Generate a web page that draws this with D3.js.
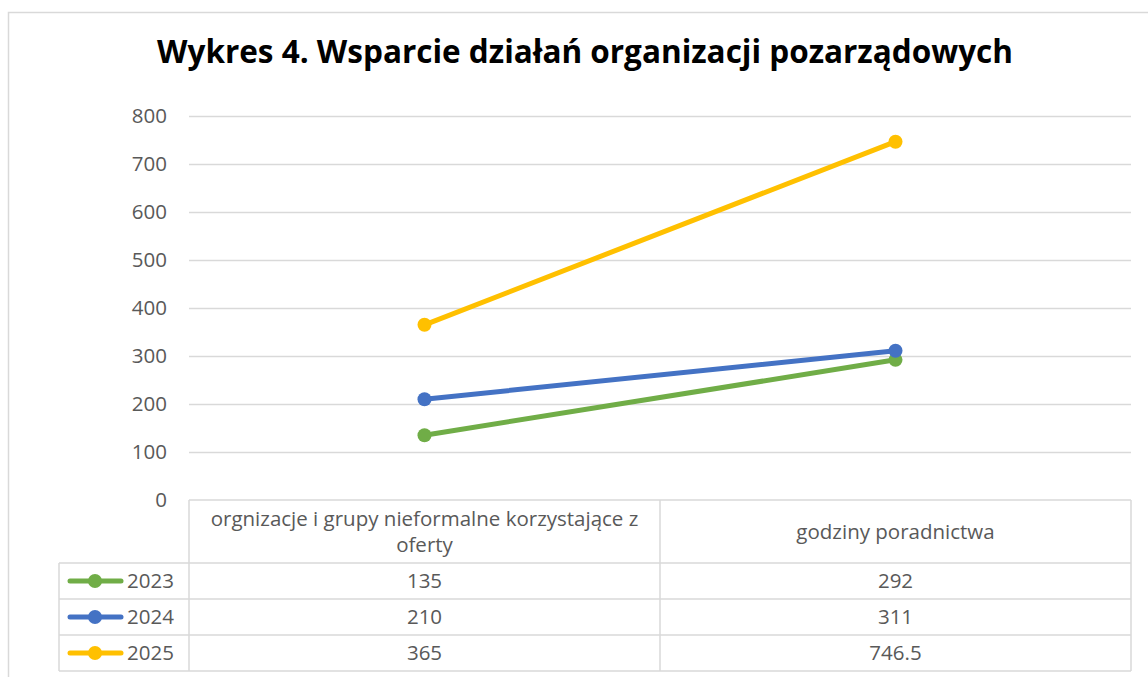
<!DOCTYPE html>
<html>
<head>
<meta charset="utf-8">
<script src="https://cdn.jsdelivr.net/npm/d3@7"></script>
<style>
  body { margin: 0; background: #fff; }
  svg { display: block; font-family: "Open Sans", Lato, sans-serif; }
</style>
</head>
<body>
<svg id="chart" width="1148" height="677"></svg>
<script>
const title = "Wykres 4. Wsparcie działań organizacji pozarządowych";
const categories = [
  ["orgnizacje i grupy nieformalne korzystające z", "oferty"],
  ["godziny poradnictwa"]
];
const years = ["2023", "2024", "2025"];
const values2023 = [135, 292];
const values2024 = [210, 311];
const values2025 = [365, 746.5];
const yTicks = [0, 100, 200, 300, 400, 500, 600, 700, 800];
const colors = ["#70AD47", "#4472C4", "#FFC000"];

const series = [values2023, values2024, values2025];

const svg = d3.select("#chart");
const grey = "#d9d9d9";
const textColor = "#595959";
const fs = 20.5;

// outer chart frame
svg.append("rect")
  .attr("x", 8.5).attr("y", 12.5)
  .attr("width", 1160).attr("height", 700)
  .attr("fill", "none").attr("stroke", grey).attr("stroke-width", 1.5);

svg.append("text")
  .attr("x", 585).attr("y", 63)
  .attr("text-anchor", "middle")
  .attr("font-size", 31.5).attr("font-weight", "bold")
  .attr("fill", "#000")
  .text(title);

const plotLeft = 189, plotRight = 1131, plotTop = 116, plotBottom = 500;

const x = d3.scaleBand()
  .domain(d3.range(categories.length))
  .range([plotLeft, plotRight]);
const y = d3.scaleLinear().domain([0, 800]).range([plotBottom, plotTop]);

// gridlines
const yAxis = svg.append("g")
  .attr("transform", `translate(${plotLeft},0)`)
  .call(d3.axisLeft(y).tickValues(yTicks).tickSize(-(plotRight - plotLeft)).tickPadding(22));
yAxis.select(".domain").remove();
yAxis.selectAll(".tick line")
  .attr("stroke", grey).attr("stroke-width", 1.5)
  .attr("display", d => d === 0 ? "none" : null);
yAxis.selectAll(".tick text")
  .attr("fill", textColor).attr("font-size", fs)
  .attr("font-family", "'Open Sans', Lato, sans-serif");

// lines
const line = d3.line()
  .x((d, i) => x(i) + x.bandwidth() / 2)
  .y(d => y(d));

series.forEach((vals, s) => {
  svg.append("path")
    .datum(vals)
    .attr("fill", "none")
    .attr("stroke", colors[s])
    .attr("stroke-width", 5)
    .attr("stroke-linecap", "round")
    .attr("d", line);
  svg.selectAll(null)
    .data(vals)
    .enter()
    .append("circle")
    .attr("cx", (d, i) => x(i) + x.bandwidth() / 2)
    .attr("cy", d => y(d))
    .attr("r", 7)
    .attr("fill", colors[s]);
});

// data table
const headerBottom = 563, rowH = 36, tableLeft = 59;
const tbl = svg.append("g")
  .attr("fill", "none").attr("stroke", grey).attr("stroke-width", 1.5);

// horizontal lines
tbl.append("line").attr("x1", plotLeft).attr("x2", plotRight).attr("y1", plotBottom).attr("y2", plotBottom);
d3.range(years.length + 1).forEach(r => {
  const yy = headerBottom + r * rowH;
  tbl.append("line").attr("x1", tableLeft).attr("x2", plotRight).attr("y1", yy).attr("y2", yy);
});
// vertical lines
tbl.append("line").attr("x1", tableLeft).attr("x2", tableLeft)
  .attr("y1", headerBottom).attr("y2", headerBottom + years.length * rowH);
[plotLeft, x(1), plotRight].forEach(xx => {
  tbl.append("line").attr("x1", xx).attr("x2", xx)
    .attr("y1", plotBottom).attr("y2", headerBottom + years.length * rowH);
});

// header text
categories.forEach((lines, i) => {
  const cx = x(i) + x.bandwidth() / 2;
  const cy = (plotBottom + headerBottom) / 2;
  const t = svg.append("text")
    .attr("text-anchor", "middle")
    .attr("fill", textColor).attr("font-size", fs);
  lines.forEach((l, k) => {
    t.append("tspan")
      .attr("x", cx)
      .attr("y", cy + 7 + (k - (lines.length - 1) / 2) * 26)
      .text(l);
  });
});

// rows
years.forEach((yr, r) => {
  const cy = headerBottom + r * rowH + rowH / 2;
  svg.append("line")
    .attr("x1", 70).attr("x2", 121).attr("y1", cy).attr("y2", cy)
    .attr("stroke", colors[r]).attr("stroke-width", 5).attr("stroke-linecap", "round");
  svg.append("circle").attr("cx", 95).attr("cy", cy).attr("r", 7).attr("fill", colors[r]);
  svg.append("text")
    .attr("x", 127).attr("y", cy + 7)
    .attr("fill", textColor).attr("font-size", fs)
    .text(yr);
  series[r].forEach((v, i) => {
    svg.append("text")
      .attr("x", x(i) + x.bandwidth() / 2).attr("y", cy + 7)
      .attr("text-anchor", "middle")
      .attr("fill", textColor).attr("font-size", fs)
      .text(v);
  });
});
</script>
</body>
</html>
